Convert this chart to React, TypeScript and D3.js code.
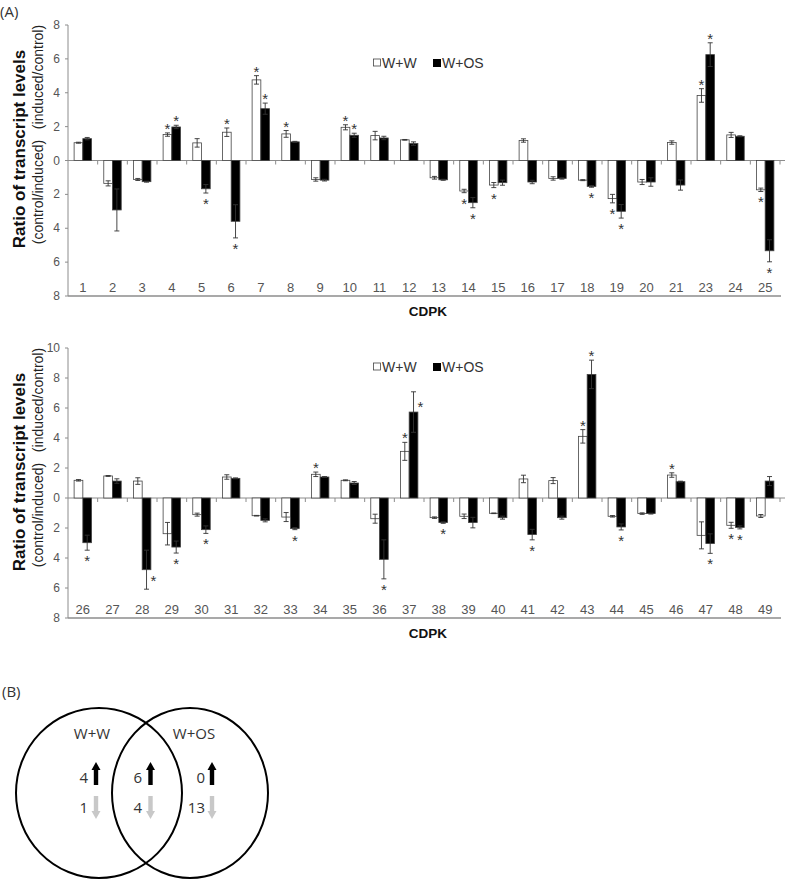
import { useMemo } from "react";
import * as d3 from "d3";

// panel A, upper chart (CDPK 1-25, no 22)
const topCats = ["1", "2", "3", "4", "5", "6", "7", "8", "9", "10", "11", "12", "13", "14", "15", "16", "17", "18", "19", "20", "21", "23", "24", "25"];
const topWW = [1.05, -1.35, -1.12, 1.53, 1.04, 1.67, 4.76, 1.57, -1.12, 1.96, 1.47, 1.22, -1.02, -1.8, -1.45, 1.18, -1.06, -1.16, -2.25, -1.27, 1.06, 3.84, 1.51, -1.73];
const topWWErr = [0.03, 0.15, 0.06, 0.1, 0.25, 0.25, 0.25, 0.2, 0.1, 0.15, 0.25, 0.02, 0.08, 0.1, 0.15, 0.1, 0.1, 0.03, 0.25, 0.15, 0.1, 0.4, 0.15, 0.1];
const topOS = [1.29, -2.92, -1.25, 1.98, -1.67, -3.59, 3.06, 1.1, -1.16, 1.49, 1.33, 1.0, -1.14, -2.49, -1.31, -1.27, -1.06, -1.53, -3.0, -1.27, -1.45, 6.25, 1.43, -5.33];
const topOSErr = [0.07, 1.24, 0.03, 0.1, 0.25, 0.98, 0.33, 0.03, 0.05, 0.12, 0.1, 0.1, 0.03, 0.3, 0.15, 0.1, 0.04, 0.05, 0.4, 0.25, 0.3, 0.7, 0.03, 0.65];
const topSigWW = ["4", "6", "7", "8", "10", "14", "15", "19", "23", "25"];
const topSigOS = ["4", "5", "6", "7", "10", "14", "18", "19", "23", "25"];

// panel A, lower chart (CDPK 26-49)
const botCats = ["26", "27", "28", "29", "30", "31", "32", "33", "34", "35", "36", "37", "38", "39", "40", "41", "42", "43", "44", "45", "46", "47", "48", "49"];
const botWW = [1.18, 1.47, 1.13, -2.38, -1.11, 1.4, -1.18, -1.27, 1.58, 1.18, -1.38, 3.11, -1.31, -1.22, -1.02, 1.27, 1.16, 4.11, -1.22, -1.04, 1.53, -2.49, -1.82, -1.2];
const botWWErr = [0.05, 0.03, 0.22, 0.75, 0.1, 0.15, 0.02, 0.3, 0.15, 0.03, 0.3, 0.6, 0.05, 0.15, 0.02, 0.25, 0.2, 0.45, 0.05, 0.05, 0.15, 0.9, 0.2, 0.1];
const botOS = [-2.98, 1.13, -4.78, -3.27, -2.11, 1.31, -1.49, -2.04, 1.4, 1.0, -4.09, 5.73, -1.64, -1.64, -1.31, -2.44, -1.31, 8.24, -1.93, -1.04, 1.09, -3.04, -1.96, 1.13];
const botOSErr = [0.5, 0.15, 1.3, 0.4, 0.25, 0.03, 0.1, 0.07, 0.03, 0.1, 1.3, 1.35, 0.05, 0.35, 0.1, 0.35, 0.1, 0.95, 0.2, 0.03, 0.03, 0.65, 0.1, 0.3];
const botSigWW = ["34", "37", "43", "46", "48"];
const botSigOS = ["26", "28", "29", "30", "33", "36", "37", "38", "41", "43", "44", "47", "48"];
// asterisks drawn beside the (long) error bar instead of past it
const botOSStarBeside = ["28", "37"];

const seriesNames = ["W+W", "W+OS"];

// panel B venn counts: [W+W only, both, W+OS only]
const vennSets = ["W+W", "W+OS"];
const vennUp = [4, 6, 0];
const vennDown = [1, 4, 13];

const AXIS = "#8c8c8c";
const TICK_TXT = "#555";
const FONT = "'Liberation Sans', Arial, sans-serif";

const X0 = 68;
const X1 = 780;

function BarChart({ cats, ww, wwErr, os, osErr, sigWW, sigOS, osBeside = [], yMin, yMax, top, bottom, legendY }) {
  const x = useMemo(() => d3.scaleBand().domain(cats).range([X0, X1]).padding(0), [cats]);
  const inner = useMemo(
    () => d3.scaleBand().domain(seriesNames).range([0, x.bandwidth()]).paddingOuter(0.7).paddingInner(0),
    [x]
  );
  const y = useMemo(() => d3.scaleLinear().domain([yMin, yMax]).range([bottom, top]), [yMin, yMax, top, bottom]);
  const ticks = d3.range(yMin, yMax + 0.1, 2);
  const y0 = y(0);

  const bars = [];
  cats.forEach((c, i) => {
    [
      { s: "W+W", v: ww[i], e: wwErr[i], sig: sigWW.includes(c), beside: false, fill: "#fff" },
      { s: "W+OS", v: os[i], e: osErr[i], sig: sigOS.includes(c), beside: osBeside.includes(c), fill: "#000" },
    ].forEach((d) => {
      const bx = x(c) + inner(d.s);
      const bw = inner.bandwidth();
      const cx = bx + bw / 2;
      const yv = y(d.v);
      const dir = d.v >= 0 ? -1 : 1;
      const yLo = y(d.v - d.e);
      const yHi = y(d.v + d.e);
      const errEnd = dir < 0 ? Math.min(yLo, yHi) : Math.max(yLo, yHi);
      const sx = d.beside ? cx + 7 : cx;
      const sy = d.beside ? errEnd - dir * 12 : errEnd + dir * 7.5;
      bars.push(
        <g key={c + d.s}>
          <rect
            x={bx}
            width={bw}
            y={Math.min(yv, y0)}
            height={Math.abs(yv - y0)}
            fill={d.fill}
            stroke="#444"
            strokeWidth={0.8}
          />
          <line x1={cx} x2={cx} y1={yLo} y2={yHi} stroke="#333" strokeWidth={0.9} />
          <line x1={cx - 2.5} x2={cx + 2.5} y1={yLo} y2={yLo} stroke="#333" strokeWidth={0.9} />
          <line x1={cx - 2.5} x2={cx + 2.5} y1={yHi} y2={yHi} stroke="#333" strokeWidth={0.9} />
          {d.sig && (
            <text x={sx} y={sy + 8.5} textAnchor="middle" fontSize={15} fontFamily={FONT} fill="#333">
              *
            </text>
          )}
        </g>
      );
    });
  });

  return (
    <g>
      {/* y axis */}
      <line x1={X0} x2={X0} y1={top} y2={bottom} stroke={AXIS} />
      {ticks.map((t) => (
        <g key={t}>
          <line x1={X0 - 3} x2={X0} y1={y(t)} y2={y(t)} stroke={AXIS} />
          <text x={X0 - 8} y={y(t) + 4} textAnchor="end" fontSize={12} fontFamily={FONT} fill={TICK_TXT}>
            {Math.abs(t)}
          </text>
        </g>
      ))}
      {/* zero line with category ticks */}
      <line x1={X0} x2={X1 + 5} y1={y0} y2={y0} stroke={AXIS} />
      {cats.map((c) => (
        <line key={c} x1={x(c) + x.bandwidth()} x2={x(c) + x.bandwidth()} y1={y0} y2={y0 + 4} stroke={AXIS} />
      ))}
      {/* bottom axis line */}
      <line x1={X0} x2={X1 + 1} y1={bottom} y2={bottom} stroke={AXIS} strokeWidth={1.3} />
      {cats.map((c) => (
        <text
          key={c}
          x={x(c) + x.bandwidth() / 2}
          y={bottom - 4.5}
          textAnchor="middle"
          fontSize={13}
          fontFamily={FONT}
          fill={TICK_TXT}
        >
          {c}
        </text>
      ))}
      {bars}
      <text x={428} y={bottom + 20} textAnchor="middle" fontSize={13.5} fontWeight="bold" fontFamily={FONT} fill="#111">
        CDPK
      </text>
      {/* y labels */}
      <text
        transform={`translate(19,${top + 124}) rotate(-90)`}
        textAnchor="middle"
        dominantBaseline="central"
        fontSize={17}
        fontWeight="bold"
        fontFamily={FONT}
        fill="#111"
      >
        Ratio of transcript levels
      </text>
      <text
        transform={`translate(38,${top + 52}) rotate(-90)`}
        textAnchor="middle"
        dominantBaseline="central"
        fontSize={14}
        fontFamily={FONT}
        fill="#222"
      >
        (induced/control)
      </text>
      <text
        transform={`translate(38,${top + 167}) rotate(-90)`}
        textAnchor="middle"
        dominantBaseline="central"
        fontSize={14}
        fontFamily={FONT}
        fill="#222"
      >
        (control/induced)
      </text>
      {/* legend */}
      <rect x={373.5} y={legendY - 9} width={7} height={7} fill="#fff" stroke="#444" strokeWidth={0.8} />
      <text x={382} y={legendY} fontSize={14} fontFamily={FONT} fill="#333">
        {seriesNames[0]}
      </text>
      <rect x={433} y={legendY - 9} width={8} height={8} fill="#000" />
      <text x={442} y={legendY} fontSize={14} fontFamily={FONT} fill="#333">
        {seriesNames[1]}
      </text>
    </g>
  );
}

function Arrow({ x, y, up, color }) {
  // x: center, y: top of arrow
  const h = 23;
  const hw = 4.5;
  const sw = 2.2;
  const head = 8;
  const pts = up
    ? [
        [x, y],
        [x + hw, y + head],
        [x + sw, y + head],
        [x + sw, y + h],
        [x - sw, y + h],
        [x - sw, y + head],
        [x - hw, y + head],
      ]
    : [
        [x, y + h],
        [x + hw, y + h - head],
        [x + sw, y + h - head],
        [x + sw, y],
        [x - sw, y],
        [x - sw, y + h - head],
        [x - hw, y + h - head],
      ];
  return <polygon points={pts.map((p) => p.join(",")).join(" ")} fill={color} />;
}

function Venn() {
  const VF = "'Open Sans', 'Liberation Sans', sans-serif";
  const numX = [88, 142, 205];
  const arrX = [96, 150.5, 212];
  return (
    <g>
      <text x={2} y={697} fontSize={15} fontFamily={VF} fill="#333">
        (B)
      </text>
      <ellipse cx={99} cy={793} rx={83} ry={85} fill="none" stroke="#000" strokeWidth={2} />
      <ellipse cx={190} cy={793} rx={78} ry={85} fill="none" stroke="#000" strokeWidth={2} />
      <text x={92} y={739} textAnchor="middle" fontSize={15} fontFamily={VF} fill="#333">
        {vennSets[0]}
      </text>
      <text x={194} y={739} textAnchor="middle" fontSize={15} fontFamily={VF} fill="#333">
        {vennSets[1]}
      </text>
      {vennUp.map((n, i) => (
        <g key={"u" + i}>
          <text x={numX[i]} y={783} textAnchor="end" fontSize={15} fontFamily={VF} fill="#333">
            {n}
          </text>
          <Arrow x={arrX[i]} y={762} up color="#000" />
        </g>
      ))}
      {vennDown.map((n, i) => (
        <g key={"d" + i}>
          <text x={numX[i]} y={813} textAnchor="end" fontSize={15} fontFamily={VF} fill="#333">
            {n}
          </text>
          <Arrow x={arrX[i]} y={796} up={false} color="#c8c8c8" />
        </g>
      ))}
    </g>
  );
}

export default function App() {
  return (
    <svg width={787} height={881} style={{ position: "absolute", left: 0, top: 0, background: "#fff" }}>
      <text x={0} y={17} fontSize={15} fontFamily="'Open Sans', sans-serif" fill="#333">
        (A)
      </text>
      <BarChart
        cats={topCats}
        ww={topWW}
        wwErr={topWWErr}
        os={topOS}
        osErr={topOSErr}
        sigWW={topSigWW}
        sigOS={topSigOS}
        yMin={-8}
        yMax={8}
        top={25}
        bottom={296}
        legendY={68}
      />
      <BarChart
        cats={botCats}
        ww={botWW}
        wwErr={botWWErr}
        os={botOS}
        osErr={botOSErr}
        sigWW={botSigWW}
        sigOS={botSigOS}
        osBeside={botOSStarBeside}
        yMin={-8}
        yMax={10}
        top={348}
        bottom={618}
        legendY={372}
      />
      <Venn />
    </svg>
  );
}
